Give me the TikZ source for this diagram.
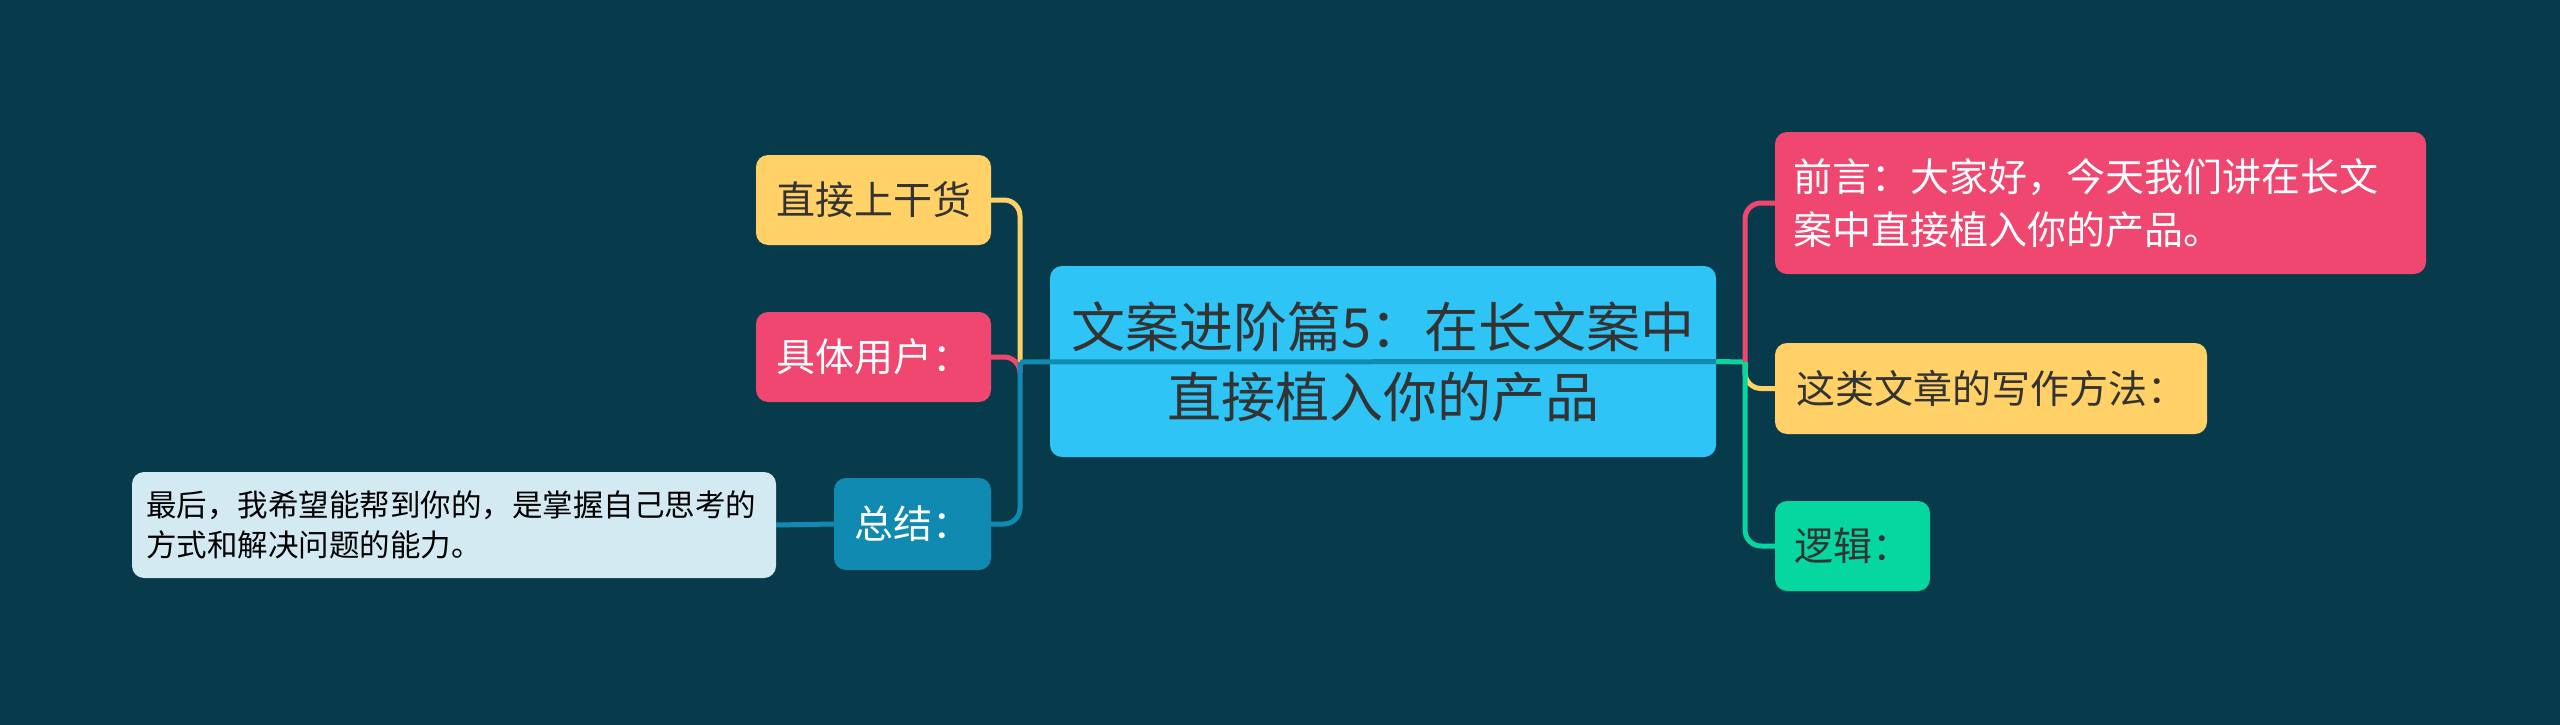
\documentclass[tikz,border=0pt]{standalone}
\usepackage{fontspec}
\newfontfamily\cjk{Noto Sans CJK SC}
\definecolor{bg}{RGB}{7,59,76}
\definecolor{yel}{RGB}{255,209,102}
\definecolor{pink}{RGB}{239,71,111}
\definecolor{grn}{RGB}{6,214,160}
\definecolor{blu}{RGB}{17,138,178}
\definecolor{sky}{RGB}{46,196,246}
\definecolor{pale}{RGB}{211,234,242}
\definecolor{dk}{RGB}{51,51,51}
\tikzset{
  box/.style={rounded corners=12pt, inner xsep=0pt, inner ysep=0pt, font=\cjk},
  midtxt/.style={font=\cjk\fontsize{39}{53}\selectfont},
  conn/.style={line width=5pt, rounded corners=16pt},
}
\begin{document}
\begin{tikzpicture}[x=1pt,y=-1pt]
\fill[bg] (0,0) rectangle (2560,725);
\useasboundingbox (0,0) rectangle (2560,725);

% central
\node[box, fill=sky, text=dk, minimum width=666, minimum height=191, align=center,
      font=\cjk\fontsize{54}{70}\selectfont] (c) at (1383,361.5)
      {文案进阶篇5：在长文案中\\直接植入你的产品};

% left
\node[box, midtxt, fill=yel, text=dk, minimum width=235, minimum height=90] (n1) at (873.5,200) {直接上干货};
\node[box, midtxt, fill=pink, text=white, minimum width=235, minimum height=90] (n2) at (873.5,357) {具体用户：};
\node[box, midtxt, fill=blu, text=white, minimum width=157, minimum height=92] (n3) at (912.5,524) {总结：};
\node[box, fill=pale, text=black, inner xsep=14pt, text width=616, minimum height=106, align=left,
      font=\cjk\fontsize{30.5}{40}\selectfont] (leaf) at (454,525)
      {最后，我希望能帮到你的，是掌握自己思考的\\方式和解决问题的能力。};

% right
\node[box, midtxt, fill=pink, text=white, inner xsep=18pt, text width=615, minimum height=142, align=left] (r1) at (2100.5,203)
      {前言：大家好，今天我们讲在长文\\案中直接植入你的产品。};
\node[box, midtxt, fill=yel, text=dk, minimum width=432, minimum height=91] (r2) at (1991,388.5) {这类文章的写作方法：};
\node[box, midtxt, fill=grn, text=dk, minimum width=155, minimum height=90] (r3) at (1852.5,546) {逻辑：};

\coordinate (jl) at (1020,362);
\coordinate (jr) at (1745,362);

\draw[conn, yel] (n1.east) -| (jl);
\draw[conn, pink] (n2.east) -| (jl);
\draw[conn, blu] (n3.east) -| (jl);
\draw[conn, blu] (leaf.east) -- (n3.west);
\draw[conn, blu] (jl) -- (c.east);
\draw[conn, grn] (c.east) -- (jr);
\draw[conn, pink] (jr) |- (r1.west);
\draw[conn, yel] (jr) |- (r2.west);
\draw[conn, grn] (jr) |- (r3.west);
\end{tikzpicture}
\end{document}
